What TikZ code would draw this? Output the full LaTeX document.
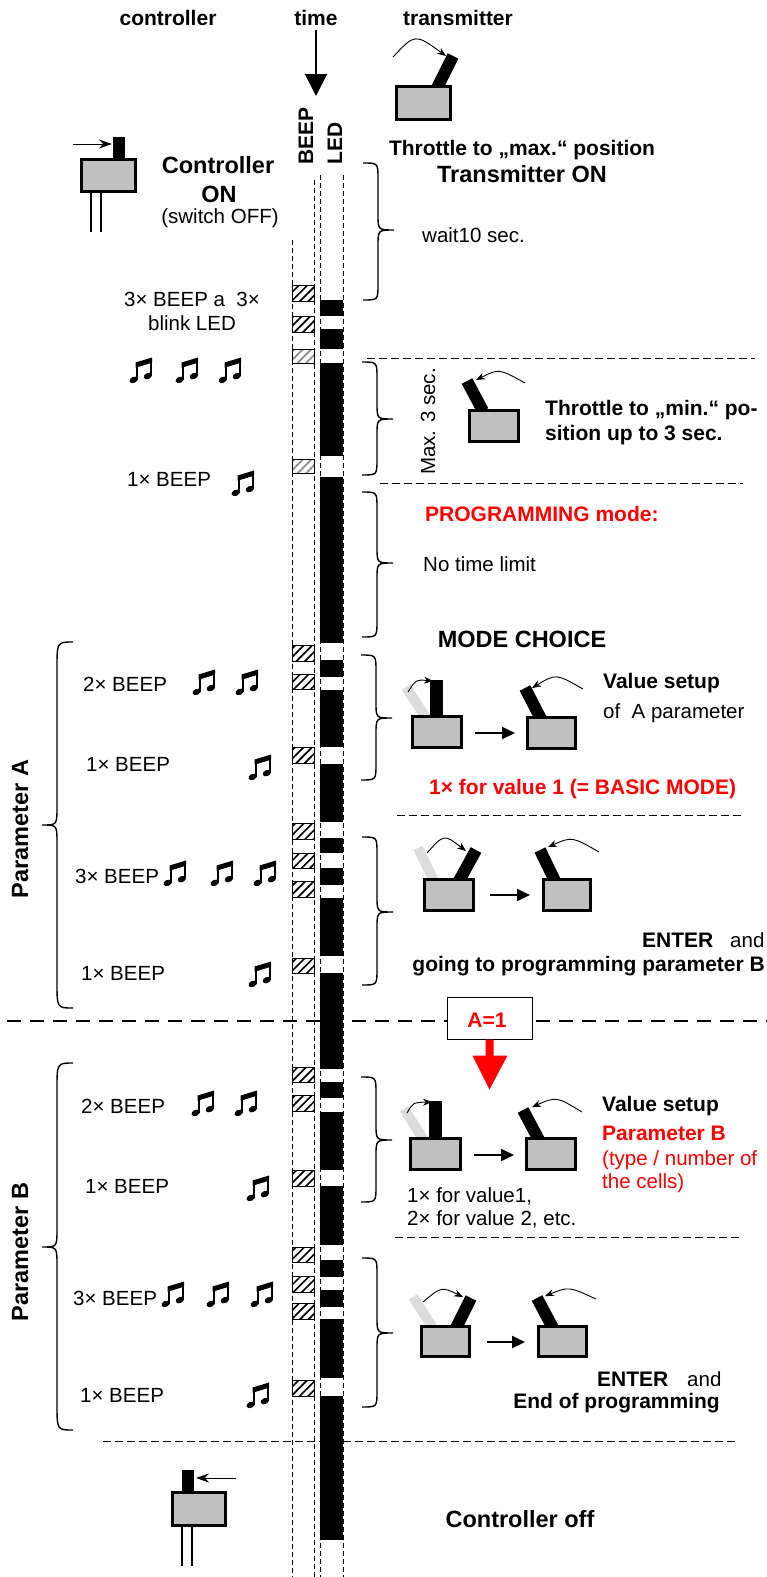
\documentclass[tikz,border=0pt]{standalone}
\usepackage{fontspec}
\setmainfont{Liberation Sans}
\usetikzlibrary{arrows.meta,patterns.meta}
\definecolor{boxgray}{HTML}{C0C0C0}
\definecolor{ltgray}{HTML}{DCDCDC}
\definecolor{hgray}{HTML}{8C8C8C}
\newcommand\rsz{\fontsize{20.5}{24}\selectfont}
\newcommand\bsz{\bfseries\fontsize{21}{25}\selectfont}
\newcommand\blz{\bfseries\fontsize{23.5}{28}\selectfont}
% right brace: x, ytop, ybot, ymid
\newcommand\rbr[4]{\draw[brc] (#1,#2) .. controls ({#1+15},#2) .. ({#1+15},{#2+16}) -- ({#1+15},{#4-16}) .. controls ({#1+15},#4) .. ({#1+31},#4) .. controls ({#1+15},#4) .. ({#1+15},{#4+16}) -- ({#1+15},{#3-16}) .. controls ({#1+15},#3) .. (#1,#3);}
\newcommand\lbr[4]{\draw[brc] (#1,#2) .. controls ({#1-16},#2) .. ({#1-16},{#2+26}) -- ({#1-16},{#4-18}) .. controls ({#1-16},#4) .. ({#1-31},#4) .. controls ({#1-16},#4) .. ({#1-16},{#4+18}) -- ({#1-16},{#3-26}) .. controls ({#1-16},#3) .. (#1,#3);}
\newcommand\bpx[2]{\draw[line width=0.8pt,pattern={Lines[angle=45,distance=6pt,line width=1.7pt]}] (292,#1) rectangle (314,#2);}
\newcommand\bpg[2]{\draw[line width=0.8pt,pattern={Lines[angle=45,distance=6pt,line width=1.7pt]},pattern color=hgray] (292,#1) rectangle (314,#2);}
\newcommand\ledx[2]{\fill (320,#1) rectangle (343,#2);}
% beamed music note centred at (x,y)
\newcommand\mnote[2]{\begin{scope}[shift={({#1-11},{#2-12.5})}]
  \fill (5.6,5) -- (22,0) -- (22,5.2) -- (5.6,10.2) -- cycle;
  \draw[line width=2.3pt] (6.7,7) -- (6.7,22);
  \draw[line width=2.3pt] (20.9,3) -- (20.9,18.5);
  \fill[rotate around={25:(3.6,22.4)}] (3.6,22.4) ellipse (4.3 and 3);
  \fill[rotate around={25:(17.8,18.6)}] (17.8,18.6) ellipse (4.3 and 3);
\end{scope}}
\begin{document}
\begin{tikzpicture}[x=1pt,y=-1pt,
  txt/.style={inner sep=0pt,font=\rsz},
  btx/.style={inner sep=0pt,font=\bsz},
  blx/.style={inner sep=0pt,font=\blz},
  brc/.style={line width=1.4pt},
  tbox/.style={draw=black,line width=3.2pt,fill=boxgray},
  stick/.style={line width=12pt,black},
  gstick/.style={line width=10pt,ltgray},
  carrow/.style={line width=0.9pt,-{Stealth[length=9pt,width=7pt]}},
  sarrow/.style={line width=1pt,-{Stealth[length=13pt,width=9pt]}},
  harrow/.style={line width=2pt,-{Triangle[length=13pt,width=12pt]}},
  vdash/.style={line width=0.8pt,dash pattern=on 5pt off 3pt},
  hdash/.style={line width=0.9pt,dash pattern=on 8pt off 4pt},
  bigdash/.style={line width=2.6pt,dash pattern=on 14pt off 9pt}]
\useasboundingbox (0,0) rectangle (767,1577);

% headings
\node[btx,anchor=base] (hcon) at (168,25) {controller};
\node[btx,anchor=base] (htime) at (316,25) {time};
\node[btx,anchor=base] (htx) at (458,25) {transmitter};
\coordinate (t0) at (316,30);
\coordinate (t1) at (316,96);
\draw[line width=2pt,-{Triangle[length=22pt,width=22pt]}] (t0) -- (t1);
\node[btx,rotate=90,anchor=base west] (lbeep) at (313,165) {BEEP};
\node[btx,rotate=90,anchor=base west] (lled) at (342,165) {LED};

% time columns
\draw[vdash] (292,240) -- (292,1577);
\draw[vdash] (314,180) -- (314,1577);
\draw[vdash] (320,175) -- (320,1577);
\draw[vdash] (343,175) -- (343,1577);

% LED segments
\ledx{300}{316}\ledx{329}{349}\ledx{363}{456}\ledx{477}{643}
\ledx{660}{677}\ledx{690}{747}\ledx{764}{822}\ledx{838}{853}
\ledx{868}{885}\ledx{898}{956}\ledx{973}{1069}\ledx{1082}{1098}
\ledx{1112}{1170}\ledx{1186}{1245}\ledx{1260}{1277}\ledx{1290}{1307}
\ledx{1319}{1378}\ledx{1396}{1540}

% BEEP boxes
\bpx{285}{301}\bpx{316}{332}\bpg{349}{363}\bpg{459}{473}
\bpx{645}{661}\bpx{674}{689}\bpx{747}{763}
\bpx{823}{839}\bpx{853}{868}\bpx{881}{897}\bpx{958}{973}
\bpx{1067}{1082}\bpx{1095}{1111}\bpx{1170}{1186}
\bpx{1247}{1262}\bpx{1276}{1292}\bpx{1303}{1319}\bpx{1380}{1396}

% horizontal separators
\draw[hdash] (367,358) -- (755,358);
\draw[hdash] (380,483) -- (743,483);
\draw[hdash] (397,815) -- (743,815);
\draw[bigdash] (7,1021) -- (767,1021);
\draw[hdash] (395,1237) -- (742,1237);
\draw[hdash] (103,1441) -- (737,1441);

% controller switch (on)
\draw[line width=1.5pt] (91,193) -- (91,232);
\draw[line width=1.5pt] (101,193) -- (101,232);
\fill (113,137) rectangle (125,159);
\draw[tbox] (81.5,159.5) rectangle (135.5,191.5);
\draw[sarrow] (73,144) -- (112,144);
\node[blx,anchor=base] (con1) at (218,173) {Controller};
\node[blx,anchor=base] (con2) at (219,202) {ON};
\node[txt,anchor=base] (con3) at (220,223) {(switch OFF)};

% transmitter max
\draw[stick] (437,88) -- (453,56);
\draw[tbox] (396.5,86.5) rectangle (450.5,119.5);
\draw[carrow] (393,57) .. controls (415,33.5) .. (446,56);
\node[btx,anchor=base] (thmax) at (522,155) {Throttle to „max.“ position};
\node[blx,anchor=base] (txon) at (522,182) {Transmitter ON};
\node[txt,anchor=base west] (wait) at (422,242) {wait10 sec.};

% braces right
\rbr{363}{163}{300}{230}
\rbr{362}{362}{475}{419}
\rbr{362}{492}{637}{563}
\rbr{361}{655}{780}{718}
\rbr{362}{837}{985}{912}
\rbr{361}{1077}{1202}{1140}
\rbr{362}{1258}{1407}{1333}
% braces left
\lbr{73}{642}{1008}{825}
\lbr{73}{1063}{1430}{1247}

% left texts, first part
\node[txt,anchor=base] (b3a) at (192,306) {3× BEEP a \ 3×};
\node[txt,anchor=base] (b3b) at (192,330) {blink LED};
\mnote{141}{370}\mnote{187}{370}\mnote{230}{370}
\node[txt,anchor=base west] (b1) at (127,486) {1× BEEP};
\mnote{243}{483}

% throttle min
\node[txt,rotate=90,anchor=base west] (max3) at (435,475) {Max. 3 sec.};
\draw[stick] (483,411) -- (467,381);
\draw[tbox] (469.5,410.5) rectangle (518.5,441.5);
\draw[carrow] (525,383) .. controls (499,368.5) .. (476,380);
\node[btx,anchor=base west] (thmin1) at (545,415) {Throttle to „min.“ po-};
\node[btx,anchor=base west] (thmin2) at (545,440) {sition up to 3 sec.};
\node[btx,anchor=base west,text=red] (prog) at (425,521) {PROGRAMMING mode:};
\node[txt,anchor=base west] (notl) at (423,571) {No time limit};
\node[blx,anchor=base] (mode) at (522,647) {MODE CHOICE};

% parameter A
\node[blx,rotate=90,anchor=base] (parA) at (28,829) {Parameter A};
\node[txt,anchor=base west] (a2b) at (83,691) {2× BEEP};
\mnote{204}{682}\mnote{247}{682}
\node[txt,anchor=base west] (a1b) at (86,771) {1× BEEP};
\mnote{260}{767}
\node[txt,anchor=base west] (a3b) at (75,883) {3× BEEP};
\mnote{175}{873}\mnote{222}{873}\mnote{265}{873}
\node[txt,anchor=base west] (a1c) at (81,980) {1× BEEP};
\mnote{260}{974}

% A value setup icons
\draw[gstick] (426,718) -- (406,687);
\draw[line width=13pt] (436.5,718) -- (436.5,680);
\draw[tbox] (412.5,716.5) rectangle (461.5,747.5);
\draw[carrow] (408,692) .. controls (416,679.5) .. (433,681);
\draw[harrow] (475,733) -- (515,733);
\draw[stick] (541,719) -- (525,688);
\draw[tbox] (527.5,717.5) rectangle (575.5,748.5);
\draw[carrow] (583,689) .. controls (556,673.5) .. (532,688);
\node[btx,anchor=base west] (vsa) at (603,688) {Value setup};
\node[txt,anchor=base west] (ofa) at (603,718) {of \ A parameter};
\node[btx,anchor=base west,text=red] (basic) at (429,794) {1× for value 1 (= BASIC MODE)};

% A enter icons
\draw[gstick] (434,881) -- (418,848);
\draw[stick] (459,881) -- (476,850);
\draw[tbox] (424.5,879.5) rectangle (473.5,910.5);
\draw[carrow] (427,853) .. controls (444,834) .. (466,851);
\draw[harrow] (490,895) -- (530,895);
\draw[stick] (555,881) -- (540,850);
\draw[tbox] (543.5,879.5) rectangle (590.5,910.5);
\draw[carrow] (599,852) .. controls (572,836.5) .. (548,847);
\node[btx,anchor=base west] (ent1) at (642,947) {ENTER};
\node[txt,anchor=base west] (and1) at (730,947) {and};
\node[btx,anchor=base east] (goB) at (765,971) {going to programming parameter B};

% A=1 box and red arrow
\node[draw,fill=white,line width=1pt,minimum width=85pt,minimum height=42pt,inner sep=0pt] (a1box) at (489.5,1018) {};
\node[btx,anchor=base,text=red] (a1) at (487,1027) {A=1};
\fill[red] (a1box.south) ++(-4,0) -- ++(8,0) -- ++(0,16) -- ++(14,0) -- ++(-18,34) -- ++(-17,-34) -- ++(13,0) -- cycle;

% parameter B
\node[blx,rotate=90,anchor=base] (parB) at (28,1252) {Parameter B};
\node[txt,anchor=base west] (b2b) at (81,1113) {2× BEEP};
\mnote{203}{1103}\mnote{246}{1103}
\node[txt,anchor=base west] (b1b) at (85,1193) {1× BEEP};
\mnote{258}{1188}
\node[txt,anchor=base west] (b3c) at (73,1305) {3× BEEP};
\mnote{173}{1294}\mnote{218}{1294}\mnote{262}{1294}
\node[txt,anchor=base west] (b1c) at (80,1402) {1× BEEP};
\mnote{258}{1395}

% B value setup icons
\draw[gstick] (424,1140) -- (404,1109);
\draw[line width=13pt] (435.5,1140) -- (435.5,1101);
\draw[tbox] (410.5,1138.5) rectangle (460.5,1169.5);
\draw[carrow] (407,1113) .. controls (413,1102.5) .. (432,1102);
\draw[harrow] (474,1155) -- (514,1155);
\draw[stick] (539,1140) -- (523,1110);
\draw[tbox] (526.5,1138.5) rectangle (575.5,1169.5);
\draw[carrow] (582,1112) .. controls (556.5,1096.5) .. (532,1107);
\node[btx,anchor=base west] (vsb) at (602,1111) {Value setup};
\node[btx,anchor=base west,text=red] (parb2) at (602,1140) {Parameter B};
\node[txt,anchor=base west,text=red] (typ1) at (602,1165) {(type / number of};
\node[txt,anchor=base west,text=red] (typ2) at (602,1188) {the cells)};
\node[txt,anchor=base west] (val1) at (407,1202) {1× for value1,};
\node[txt,anchor=base west] (val2) at (407,1225) {2× for value 2, etc.};

% B enter icons
\draw[gstick] (433,1328) -- (413,1297);
\draw[stick] (456,1328) -- (471,1298);
\draw[tbox] (421.5,1326.5) rectangle (469.5,1356.5);
\draw[carrow] (423,1302) .. controls (441.5,1286.5) .. (463,1297);
\draw[harrow] (487,1342) -- (525,1342);
\draw[stick] (553,1328) -- (537,1298);
\draw[tbox] (538.5,1326.5) rectangle (586.5,1356.5);
\draw[carrow] (596,1299) .. controls (569,1286.5) .. (545,1296);
\node[btx,anchor=base west] (ent2) at (597,1386) {ENTER};
\node[txt,anchor=base west] (and2) at (687,1386) {and};
\node[btx,anchor=base east] (endp) at (720,1408) {End of programming};

% controller off
\draw[line width=1.5pt] (182,1527) -- (182,1566);
\draw[line width=1.5pt] (192,1527) -- (192,1566);
\fill (182,1470) rectangle (194,1492);
\draw[tbox] (172.5,1492.5) rectangle (225.5,1525.5);
\draw[sarrow] (236,1478) -- (196,1478);
\node[blx,anchor=base] (coff) at (520,1527) {Controller off};
\end{tikzpicture}
\end{document}
